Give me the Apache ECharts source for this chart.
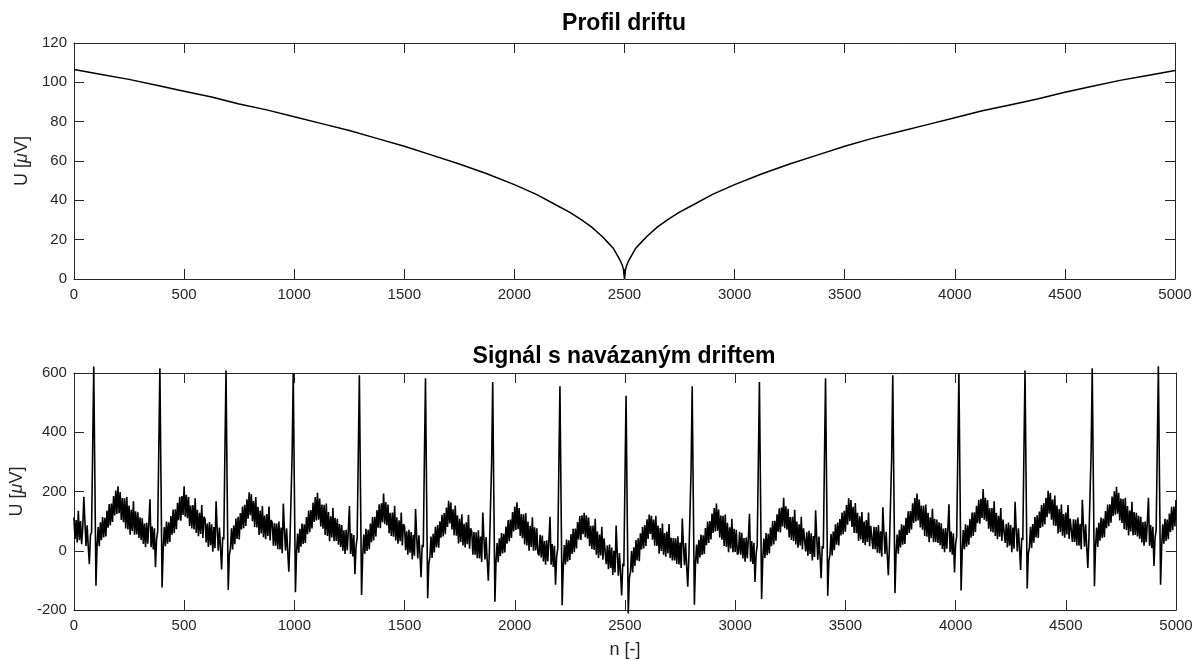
<!DOCTYPE html>
<html>
<head>
<meta charset="utf-8">
<title>Profil driftu</title>
<script src="https://cdn.jsdelivr.net/npm/echarts@6/dist/echarts.min.js"></script>
<style>
  html, body { margin: 0; padding: 0; background: #ffffff; }
  #chart { width: 1198px; height: 661px; }
</style>
</head>
<body>
<div id="chart"></div>
<script>
// ---- drift profile (sample index n, amplitude in microvolts) ----
const driftN = [0, 125, 250, 375, 500, 625, 750, 875, 1000, 1125, 1250, 1375, 1500, 1625, 1750, 1875,
  2000, 2100, 2200, 2250, 2300, 2350, 2400, 2425, 2450, 2465, 2480, 2490, 2495, 2500,
  2505, 2510, 2520, 2535, 2550, 2575, 2600, 2650, 2700, 2750, 2800, 2900, 3000,
  3125, 3250, 3375, 3500, 3625, 3750, 3875, 4000, 4125, 4250, 4375, 4500, 4625, 4750, 4875, 5000];
const driftU = [106.5, 104, 101.5, 98.5, 95.5, 92.5, 89, 86, 82.5, 79, 75.5, 71.5, 67.5, 63, 58.5, 53.5,
  48, 43, 37, 34, 30.5, 26.5, 21.5, 18.5, 15.5, 12.5, 9.5, 7, 5, 0,
  5, 7, 9.5, 12.5, 15.5, 18.5, 21.5, 26.5, 30.5, 34, 37, 43, 48,
  53.5, 58.5, 63, 67.5, 71.5, 75, 78.5, 82, 85.5, 88.5, 91.5, 95, 98, 101, 103.5, 106];

// ---- ECG with drift, one value every SAMPLE_STEP samples (n = 0 ... 5000) ----
const SAMPLE_STEP = 5;

// n = 0 ... 895
const signalPart1 = [
  112, 40, 104, 28, 135, 36, 100, 22, 78, 182, 96, 16, 86, 14, -45, 52, 62, 345,
  622, 242, -118, 17, 80, 15, 96, 36, 114, 45, 111, 48, 136, 78, 158, 85, 159, 97, 185, 119, 203, 124, 218, 127, 198, 104, 178, 96, 177, 75, 181, 72, 153, 54, 138, 67, 167, 54, 133, 55, 130,
  43, 113, 36, 110, 23, 92, 12, 94, 24, 94, 174, 12, 82, 4, 76, -56, 38, 66, 339,
  616, 236, -124, 5, 80, 15, 99, 24, 96, 30, 117, 54, 139, 60, 140, 73, 162, 103, 182, 101, 185, 121, 218, 115, 189, 110, 181, 84, 153, 75, 154, 72, 177, 60, 138, 49, 128, 57, 154, 43, 115,
  108, 28, 92, 13, 97, 19, 89, -3, 80, 9, 167, 74, 0, 78, 12, -63, 46, 38, 332,
  608, 228, -132, -15, 6, 76, 4, 85, 22, 109, 40, 115, 38, 127, 72, 149, 76, 155, 84, 174, 108, 197, 120, 191, 100, 168, 80, 181, 79, 148, 53, 136, 58, 151, 46, 119, 39, 124, 50, 149, 35, 104
];
// n = 900 ... 1800
const signalPart2 = [
  94, 17, 93, 17, 92, 5, 99, 4, 78, -8, 159, 72, 1, 76, -2, -71, 32, 33, 324,
  600, 220, -140, -5, 58, -7, 74, 14, 92, 23, 89, 26, 114, 56, 136, 63, 137, 75, 163, 97, 181, 102, 196, 105, 176, 82, 156, 74, 155, 53, 159, 50, 131, 32, 116, 45, 145, 32, 111, 33, 108,
  20, 90, 13, 87, 0, 69, -11, 71, 1, 71, 151, -11, 59, -19, 53, -79, 15, 43, 316,
  592, 211, -149, -20, 55, -10, 74, -1, 71, 5, 92, 29, 114, 35, 115, 48, 137, 78, 157, 76, 160, 96, 193, 90, 164, 85, 156, 59, 128, 50, 129, 47, 152, 35, 113, 24, 103, 32, 129, 18, 90,
  82, 2, 66, -13, 71, -7, 63, -29, 54, -17, 141, 48, -26, 52, -14, -89, 20, 12, 306,
  582, 200, -160, -43, -22, 48, -24, 57, -6, 81, 12, 87, 10, 99, 44, 121, 48, 127, 56, 146, 80, 169, 92, 163, 72, 140, 52, 153, 51, 120, 25, 108, 30, 123, 18, 91, 11, 96, 22, 121, 7, 76
];
// n = 1805 ... 2705
const signalPart3 = [
  64, -13, 63, -13, 62, -25, 69, -26, 48, -38, 129, 42, -29, 46, -32, -101, 2, 3, 294,
  570, 188, -172, -37, 26, -39, 42, -18, 60, -9, 57, -6, 82, 24, 104, 31, 105, 43, 131, 65, 149, 70, 164, 73, 144, 50, 124, 42, 123, 21, 127, 18, 99, 0, 84, 13, 113, 0, 79, 1, 76, -8,
  -16, 54, -23, 51, -36, 33, -47, 35, -35, 35, 115, -47, 23, -55, 17, -115, -21, 7, 280,
  555, 176, -184, -56, 19, -46, 38, -37, 35, -31, 56, -11, 74, -5, 75, 8, 97, 38, 117, 36, 120, 56, 128, 46, 120, 41, 112, 15, 84, 6, 85, 3, 108, -13, 65, -24, 55, -16, 81, -30, 42,
  36, -45, 18, -62, 21, -58, 11, -82, 0, -73, 85, -10, -84, -8, -75, -151, -43, -52, 240,
  523, 147, -212, -92, -71, -1, -73, 12, -51, 36, -33, 42, -35, 59, 4, 81, 8, 87, 16, 106, 40, 122, 57, 118, 37, 105, 17, 118, 16, 85, -10, 77, -1, 92, -13, 60, -20, 65, -9, 90, -24
];
// n = 2710 ... 3615
const signalPart4 = [
  44, -33, 43, -33, 42, -45, 49, -46, 28, -58, 109, 22, -49, 26, -52, -121, -18, -17, 274,
  555, 178, -182, -42, 21, -44, 37, -23, 55, -14, 52, -11, 77, 19, 99, 26, 100, 38, 126, 60, 144, 65, 159, 68, 139, 45, 119, 37, 118, 16, 122, 13, 94, -5, 79, 8, 108, -5, 74, -4, 71, -13,
  -6, 64, -13, 61, -26, 43, -37, 45, -25, 45, 125, -37, 33, -45, 27, -105, -11, 17, 290,
  570, 197, -163, -34, 41, -24, 60, -15, 57, -9, 78, 15, 100, 21, 101, 34, 123, 64, 143, 62, 146, 82, 179, 76, 150, 71, 142, 45, 114, 36, 115, 33, 138, 21, 99, 10, 89, 18, 115, 4, 76,
  78, -2, 62, -17, 67, -11, 59, -33, 50, -21, 137, 44, -30, 48, -18, -93, 16, 8, 302,
  582, 208, -152, -35, -14, 56, -16, 65, 2, 89, 20, 95, 18, 107, 52, 129, 56, 135, 64, 154, 88, 177, 100, 171, 80, 148, 60, 161, 59, 128, 33, 116, 38, 131, 26, 99, 19, 104, 30, 129, 15, 84
];
// n = 3620 ... 5000
const signalPart5 = [
  82, 5, 81, 5, 80, -7, 87, -8, 66, -20, 147, 60, -11, 64, -14, -83, 20, 21, 312,
  592, 217, -143, -8, 55, -10, 71, 11, 89, 20, 86, 23, 111, 53, 133, 60, 134, 72, 160, 94, 178, 99, 193, 102, 173, 79, 153, 71, 152, 50, 156, 47, 128, 29, 113, 42, 142, 29, 108, 30, 105,
  26, 96, 19, 93, 6, 75, -5, 77, 7, 77, 157, -5, 65, -13, 59, -73, 21, 49, 322,
  600, 226, -134, -5, 70, 5, 89, 14, 86, 20, 107, 44, 129, 50, 130, 63, 152, 93, 172, 91, 175, 111, 208, 105, 179, 100, 171, 74, 143, 65, 144, 62, 167, 50, 128, 39, 118, 47, 144, 33, 105,
  106, 26, 90, 11, 95, 17, 87, -5, 78, 7, 165, 72, -2, 76, 10, -65, 44, 36, 330,
  608, 233, -127, -10, 11, 81, 9, 90, 27, 114, 45, 120, 43, 132, 77, 154, 81, 160, 89, 179, 113, 202, 125, 196, 105, 173, 85, 186, 84, 153, 58, 141, 63, 156, 51, 124, 44, 129, 55, 154, 40, 109,
  107, 30, 106, 30, 105, 18, 112, 17, 91, 5, 172, 85, 14, 89, 11, -58, 45, 46, 337,
  616, 240, -120, 15, 78, 13, 94, 34, 112, 43, 109, 46, 134, 76, 156, 83, 157, 95, 183, 117, 201, 122, 216, 125, 196, 102, 176, 94, 175, 73, 179, 70, 151, 52, 136, 65, 165, 52, 131, 53, 128,
  48, 118, 41, 115, 28, 97, 17, 99, 29, 99, 179, 17, 87, 9, 81, -51, 43, 71, 344,
  623, 245, -115, 14, 89, 24, 108, 33, 105, 39, 126, 63, 148, 69, 149, 82, 171
];

// ---- axis ticks ----
const nTicks = { min: 0, max: 5000, step: 500 };
const driftTicks = { min: 0, max: 120, step: 20 };
const signalTicks = { min: -200, max: 600, step: 200 };

const signal = [].concat(signalPart1, signalPart2, signalPart3, signalPart4, signalPart5);
const signalData = signal.map((u, i) => [i * SAMPLE_STEP, u]);
const driftData = driftN.map((n, i) => [n, driftU[i]]);

const AXIS_COLOR = '#262626';
const FONT = '"Liberation Sans", Arial, Helvetica, sans-serif';
const plainNumber = v => String(v);

function boxX(gridIndex, position, ticks, withLabels, name) {
  return {
    type: 'value', gridIndex, position,
    min: ticks.min, max: ticks.max, interval: ticks.step,
    name: name || '', nameLocation: 'middle', nameGap: 31,
    nameTextStyle: { color: AXIS_COLOR, fontSize: 18, fontFamily: FONT },
    axisLine: { show: true, onZero: false, lineStyle: { color: AXIS_COLOR, width: 1 } },
    axisTick: { show: true, inside: true, length: 10, lineStyle: { color: AXIS_COLOR, width: 1 } },
    axisLabel: { show: withLabels, color: AXIS_COLOR, fontSize: 15, fontFamily: FONT, margin: 8,
      showMinLabel: true, showMaxLabel: true, formatter: plainNumber },
    splitLine: { show: false }
  };
}
function boxY(gridIndex, position, ticks, withLabels, gap) {
  return {
    type: 'value', gridIndex, position,
    min: ticks.min, max: ticks.max, interval: ticks.step,
    name: withLabels ? 'U [{i|\u03bc}V]' : '', nameLocation: 'middle', nameGap: gap || 40, nameRotate: 90,
    nameTextStyle: { color: AXIS_COLOR, fontSize: 18, fontFamily: FONT,
      rich: { i: { fontStyle: 'italic', fontSize: 18, fontFamily: FONT, color: AXIS_COLOR } } },
    axisLine: { show: true, onZero: false, lineStyle: { color: AXIS_COLOR, width: 1 } },
    axisTick: { show: true, inside: true, length: 10, lineStyle: { color: AXIS_COLOR, width: 1 } },
    axisLabel: { show: withLabels, color: AXIS_COLOR, fontSize: 15, fontFamily: FONT, margin: 7,
      showMinLabel: true, showMaxLabel: true, formatter: plainNumber },
    splitLine: { show: false }
  };
}

const chart = echarts.init(document.getElementById('chart'), null, { renderer: 'canvas' });
chart.setOption({
  animation: false,
  backgroundColor: '#ffffff',
  title: [
    { text: 'Profil driftu', left: 624, top: 12, textAlign: 'center', padding: 0,
      textStyle: { fontSize: 23, fontWeight: 'bold', color: '#000000', fontFamily: FONT } },
    { text: 'Signál s navázaným driftem', left: 624, top: 345, textAlign: 'center', padding: 0,
      textStyle: { fontSize: 23, fontWeight: 'bold', color: '#000000', fontFamily: FONT } }
  ],
  grid: [
    { left: 74, top: 43, width: 1101, height: 236, containLabel: false },
    { left: 73, top: 373, width: 1103, height: 237, containLabel: false }
  ],
  xAxis: [
    boxX(0, 'bottom', nTicks, true),
    boxX(0, 'top', nTicks, false),
    boxX(1, 'bottom', nTicks, true, 'n [-]'),
    boxX(1, 'top', nTicks, false)
  ],
  yAxis: [
    boxY(0, 'left', driftTicks, true, 32),
    boxY(0, 'right', driftTicks, false),
    boxY(1, 'left', signalTicks, true, 38),
    boxY(1, 'right', signalTicks, false)
  ],
  series: [
    {
      name: 'drift', type: 'line', xAxisIndex: 0, yAxisIndex: 0,
      data: driftData, showSymbol: false, smooth: false,
      lineStyle: { color: '#000000', width: 1.5 }
    },
    {
      name: 'signal', type: 'line', xAxisIndex: 2, yAxisIndex: 2,
      data: signalData, showSymbol: false, smooth: false, clip: false,
      sampling: null,
      lineStyle: { color: '#000000', width: 1.6 }
    }
  ]
});
</script>
</body>
</html>
